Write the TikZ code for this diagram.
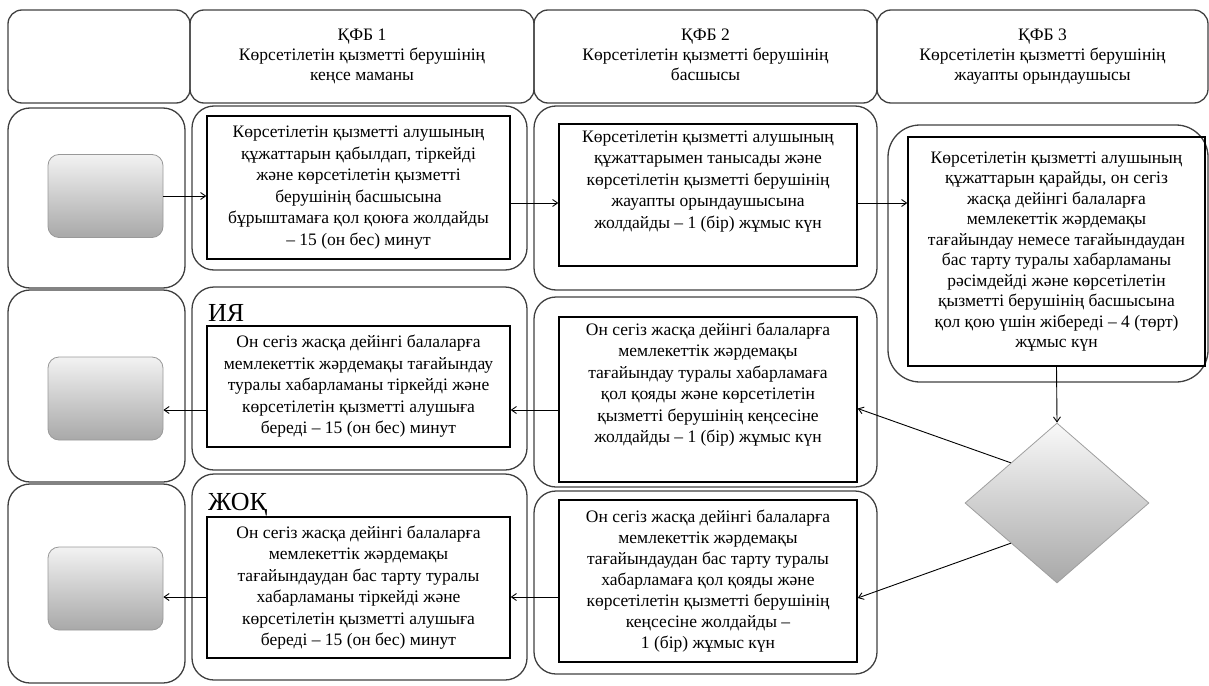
\documentclass[tikz,border=0pt]{standalone}
\usepackage{fontspec}
\setmainfont{Liberation Serif}
\usetikzlibrary{shapes.geometric,arrows.meta,calc}

\begin{document}
\begin{tikzpicture}[x=1pt,y=-1pt,
  lane/.style={draw=black!75, line width=1.3pt, rounded corners=22pt},
  head/.style={draw=black!75, line width=1.3pt, rounded corners=14pt, inner sep=0pt,
    align=center, font=\fontsize{17.5}{20}\selectfont},
  txt/.style={draw=black, line width=1.4pt, inner sep=0pt, align=center,
    font=\fontsize{17.5}{21.5}\selectfont},
  grad/.style={draw=black!40, line width=0.8pt, rounded corners=11pt,
    top color=gray!10, bottom color=gray!68, minimum width=115pt, minimum height=83pt},
  tag/.style={inner sep=0pt, font=\fontsize{26}{26}\selectfont},
  arr/.style={-{Straight Barb[length=5pt,width=7pt]}, line width=0.9pt}
]
\useasboundingbox (0,0) rectangle (1209,685);

% header row
\node[head, minimum width=182pt, minimum height=93pt] (h0) at (99,56.5) {};
\node[head, minimum width=344pt, minimum height=93pt] (h1) at (362,56.5)
  {\strut ҚФБ 1\\Көрсетілетін қызметті берушінің\\кеңсе маманы\strut};
\node[head, minimum width=343pt, minimum height=93pt] (h2) at (705.5,56.5)
  {\strut ҚФБ 2\\Көрсетілетін қызметті берушінің\\басшысы\strut};
\node[head, minimum width=331pt, minimum height=93pt] (h3) at (1042.5,56.5)
  {\strut ҚФБ 3\\Көрсетілетін қызметті берушінің\\жауапты орындаушысы\strut};

% lane frames, first column
\draw[lane] (8,108) rectangle (185,288);
\draw[lane] (8,290) rectangle (185,482);
\draw[lane] (8,484) rectangle (185,683);
% lane frames, second column
\draw[lane] (192,106) rectangle (527,270);
\draw[lane] (192,287) rectangle (527,470);
\draw[lane] (192,474) rectangle (527,680);
% lane frames, third column
\draw[lane] (534,106) rectangle (877,290);
\draw[lane] (534,297) rectangle (877,487);
\draw[lane] (534,491) rectangle (877,674);
% lane frame, fourth column
\draw[lane, rounded corners=32pt] (888,125) rectangle (1208,382);

% start / end markers
\node[grad] (g1) at (105.5,196) {};
\node[grad] (g2) at (105.5,398.5) {};
\node[grad] (g3) at (105.5,588.5) {};

% process steps
\node[txt, minimum width=303pt, minimum height=143pt] (t11) at (358.5,187.5)
  {Көрсетілетін қызметті алушының\\құжаттарын қабылдап, тіркейді\\және көрсетілетін қызметті\\берушінің басшысына\\бұрыштамаға қол қоюға жолдайды\\– 15 (он бес) минут};
\node[txt, minimum width=298pt, minimum height=142pt] (t21) at (708,195)
  {Көрсетілетін қызметті алушының\\құжаттарымен танысады және\\көрсетілетін қызметті берушінің\\жауапты орындаушысына\\жолдайды – 1 (бір) жұмыс күн\\[10pt]};
\node[txt, minimum width=297pt, minimum height=229pt,
  font=\fontsize{17.5}{20.5}\selectfont] (t3) at (1056.5,251.5)
  {Көрсетілетін қызметті алушының\\құжаттарын қарайды, он сегіз\\жасқа дейінгі балаларға\\мемлекеттік жәрдемақы\\тағайындау немесе тағайындаудан\\бас тарту туралы хабарламаны\\рәсімдейді және көрсетілетін\\қызметті берушінің басшысына\\қол қою үшін жібереді – 4 (төрт)\\жұмыс күн};

\node[txt, minimum width=303pt, minimum height=121pt] (t12) at (358.5,386.5)
  {Он сегіз жасқа дейінгі балаларға\\мемлекеттік жәрдемақы тағайындау\\туралы хабарламаны  тіркейді және\\көрсетілетін қызметті алушыға\\береді – 15 (он бес) минут};
\node[txt, minimum width=298pt, minimum height=165pt] (t22) at (708,399.5)
  {Он сегіз жасқа дейінгі балаларға\\мемлекеттік жәрдемақы\\тағайындау туралы хабарламаға\\қол қояды және көрсетілетін\\қызметті берушінің кеңсесіне\\жолдайды – 1 (бір) жұмыс күн\\[12pt]};

\node[txt, minimum width=303pt, minimum height=141pt] (t13) at (358.5,587.5)
  {Он сегіз жасқа дейінгі балаларға\\мемлекеттік жәрдемақы\\тағайындаудан бас тарту туралы\\хабарламаны тіркейді және\\көрсетілетін қызметті алушыға\\береді – 15 (он бес) минут};
\node[txt, minimum width=298pt, minimum height=162pt, font=\fontsize{17.5}{21}\selectfont] (t23) at (708,581)
  {Он сегіз жасқа дейінгі балаларға\\мемлекеттік жәрдемақы\\тағайындаудан бас тарту туралы\\хабарламаға  қол қояды және\\көрсетілетін қызметті берушінің\\кеңсесіне жолдайды –\\1 (бір) жұмыс күн};

% branch labels
\node[tag, anchor=west] (yes) at (208,313) {ИЯ};
\node[tag, anchor=west] (no) at (208,505) {ЖОҚ};

% decision
\node[diamond, draw=gray!75, line width=0.8pt, top color=gray!5, bottom color=gray!68,
  minimum width=184pt, minimum height=160pt, inner sep=0pt] (d) at (1057,503) {};

% connectors
\draw[arr] (g1.east) -- (t11.west |- g1.east);
\draw[arr] ([yshift=-15.5pt]t11.east) -- ([yshift=-15.5pt]t11.east -| t21.west);
\draw[arr] ([yshift=-8pt]t21.east) -- ([yshift=-8pt]t21.east -| t3.west);
\draw[arr] (t3.south) -- (d.north);
\draw[arr] (d.north west) -- ([yshift=-9pt]t22.east);
\draw[arr] (d.south west) -- ([yshift=-17pt]t23.east);
\draw[arr] ([yshift=-10.5pt]t22.west) -- ([yshift=-10.5pt]t22.west -| t12.east);
\draw[arr] ([yshift=-23.5pt]t12.west) -- ([yshift=-23.5pt]t12.west -| g2.east);
\draw[arr] ([yshift=-16pt]t23.west) -- ([yshift=-16pt]t23.west -| t13.east);
\draw[arr] ([yshift=-9.5pt]t13.west) -- ([yshift=-9.5pt]t13.west -| g3.east);
\end{tikzpicture}
\end{document}
